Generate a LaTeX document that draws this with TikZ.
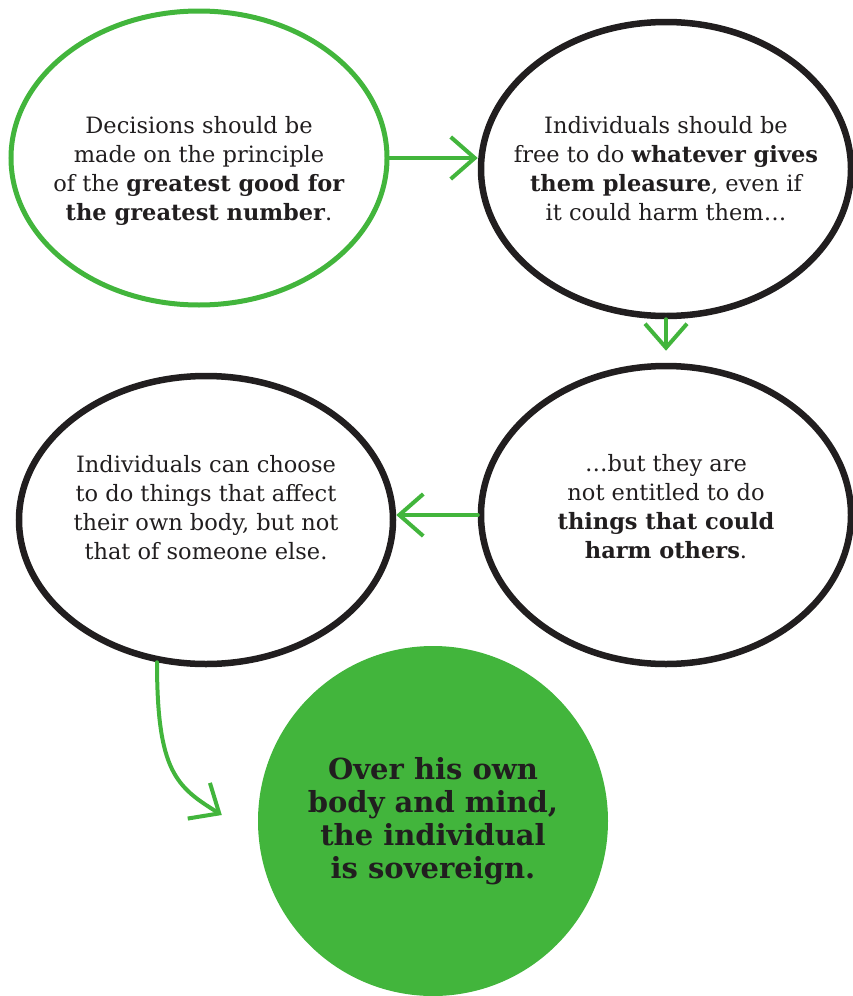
\documentclass[tikz,border=0pt]{standalone}
\usepackage{fontspec}
\setmainfont{DejaVu Serif}
\usepackage{tikz}
\usetikzlibrary{positioning,arrows.meta,shapes.geometric}
\definecolor{msGreen}{HTML}{42B53C}
\definecolor{msInk}{HTML}{211E1F}
\newcommand{\padtop}[1]{\rule{0pt}{#1}}
\newcommand{\padbot}[1]{\rule[-#1]{0pt}{0pt}}
\tikzset{
  bubble/.style={ellipse, draw=msInk, line width=6.5pt, inner ysep=0pt, inner xsep=-60pt,
                 minimum width=374pt, minimum height=294pt, align=center,
                 text=msInk, font=\fontsize{22.5}{29}\selectfont},
  flow/.style={-{Straight Barb[length=24pt, width=42pt]}, line width=4pt,
               draw=msGreen, line cap=round},
}

\begin{document}
\begin{tikzpicture}[x=1pt, y=-1pt]
  \useasboundingbox (0,0) rectangle (853,996);
  \node[bubble, draw=msGreen, line width=5pt, minimum width=376pt] (good) at (199,158)
    {\padtop{42pt}Decisions should be \\ made on the principle \\
     of the \textbf{greatest good for} \\ \textbf{the greatest number}.};
  \node[bubble, minimum width=370pt] (pleasure) at (666,169)
    {Individuals should be \\ free to do \textbf{whatever gives} \\
     \textbf{them pleasure}, even if \\ it could harm them\ldots};
  \node[bubble, minimum width=370pt, minimum height=298pt] (others) at (666,515)
    {\ldots but they are \\ not entitled to do \\
     \textbf{things that could} \\ \textbf{harm others}.\padbot{17pt}};
  \node[bubble, minimum height=288pt] (body) at (206,520)
    {Individuals can choose \\ to do things that affect \\
     their own body, but not \\ that of someone else.\padbot{26pt}};
  \node[circle, fill=msGreen, minimum size=350pt, inner sep=0pt, align=center,
        text=msInk, font=\fontsize{29}{33}\selectfont\bfseries] (sov) at (433,821)
    {Over his own \\ body and mind, \\ the individual \\ is sovereign.};

  \draw[flow] (good.east) -- (good.east -| pleasure.west);
  \draw[flow, shorten >=12pt] (pleasure.south) -- (others.north);
  \draw[flow] (others.west) -- (others.west -| body.east);
  \draw[flow] (body.251) .. controls +(0,110) and +(-45,-28) .. ([shift={(-36pt,6pt)}]sov.west);
\end{tikzpicture}
\end{document}
